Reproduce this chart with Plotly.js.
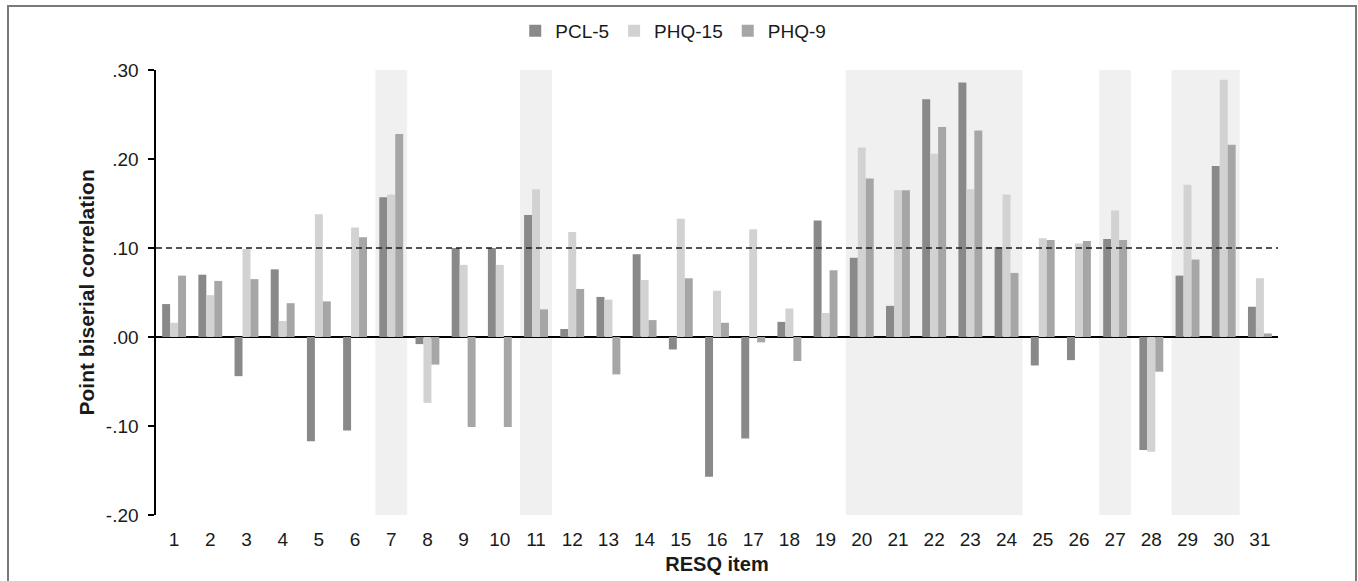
<!DOCTYPE html>
<html>
<head>
<meta charset="utf-8">
<script src="https://cdn.plot.ly/plotly-3.0.1.min.js"></script>
<style>
  html, body { margin: 0; padding: 0; background: #fff; }
  #wrap { position: relative; width: 1358px; height: 581px; overflow: hidden; }
  #chart { position: absolute; left: 0; top: 0; width: 1358px; height: 581px; }
  #frame { position: absolute; left: 7px; top: 5px; width: 1346px; height: 600px;
           border: 2px solid #7a7a7a; border-bottom: none; pointer-events: none; }
</style>
</head>
<body>
<div id="wrap">
  <div id="chart"></div>
  <div id="frame"></div>
</div>
<script>
// RESQ items
const items = [1,2,3,4,5,6,7,8,9,10,11,12,13,14,15,16,17,18,19,20,21,22,23,24,25,26,27,28,29,30,31];
const itemLabels = items.map(String);

// Point biserial correlations
const pcl5  = [0.037, 0.070, -0.044, 0.076, -0.117, -0.105, 0.157, -0.008, 0.100, 0.100,
               0.137, 0.009, 0.045, 0.093, -0.014, -0.157, -0.114, 0.017, 0.131, 0.089,
               0.035, 0.267, 0.286, 0.101, -0.032, -0.026, 0.110, -0.127, 0.069, 0.192, 0.034];
const phq15 = [0.016, 0.047, 0.099, 0.018, 0.138, 0.123, 0.160, -0.074, 0.081, 0.081,
               0.166, 0.118, 0.042, 0.064, 0.133, 0.052, 0.121, 0.032, 0.027, 0.213,
               0.165, 0.206, 0.166, 0.160, 0.111, 0.105, 0.142, -0.129, 0.171, 0.289, 0.066];
const phq9  = [0.069, 0.063, 0.065, 0.038, 0.040, 0.112, 0.228, -0.031, -0.101, -0.101,
               0.031, 0.054, -0.042, 0.019, 0.066, 0.016, -0.006, -0.027, 0.075, 0.178,
               0.165, 0.236, 0.232, 0.072, 0.109, 0.108, 0.109, -0.039, 0.087, 0.216, 0.004];

// Highlighted (shaded) items
const highlightItems = [7, 11, 20, 21, 22, 23, 24, 27, 29, 30];

// Y ticks
const yTickVals = [-0.2, -0.1, 0, 0.1, 0.2, 0.3];
const yTickText = ['-.20', '-.10', '.00', '.10', '.20', '.30'];
const threshold = 0.10;

const FONT = 'Liberation Sans, Arial, sans-serif';

const traces = [
  {type: 'bar', name: 'PCL-5', x: items, y: pcl5, marker: {color: '#898989'}},
  {type: 'bar', name: 'PHQ-15', x: items, y: phq15, marker: {color: '#d2d2d2'}},
  {type: 'bar', name: 'PHQ-9', x: items, y: phq9, marker: {color: '#a6a6a6'}}
];

// merge consecutive highlighted items into runs
const runs = [];
highlightItems.forEach(it => {
  const last = runs[runs.length - 1];
  if (last && it === last[1] + 1) last[1] = it; else runs.push([it, it]);
});
const shapes = runs.map(r => ({
  type: 'rect', xref: 'x', yref: 'paper', x0: r[0] - 0.44, x1: r[1] + 0.44, y0: 0, y1: 1,
  fillcolor: '#f0f0f0', line: {width: 0}, layer: 'below'
}));
shapes.push({
  type: 'line', xref: 'paper', yref: 'y', x0: 0, x1: 1, y0: threshold, y1: threshold,
  line: {color: '#1a1a1a', width: 1.5, dash: '6px,4px'}, layer: 'above'
});

const layout = {
  width: 1358, height: 581,
  margin: {l: 156, r: 80, t: 70, b: 66, pad: 0},
  paper_bgcolor: '#ffffff', plot_bgcolor: 'rgba(0,0,0,0)',
  font: {family: FONT, size: 19, color: '#1a1a1a'},
  barmode: 'group', bargap: 0.34, bargroupgap: 0,
  showlegend: true,
  legend: {orientation: 'h', x: 0.461, xanchor: 'center', y: 1.088, yanchor: 'middle',
           font: {family: FONT, size: 19, color: '#1a1a1a'}, itemwidth: 30, traceorder: 'normal'},
  xaxis: {
    range: [0.5, 31.5], tickvals: items, ticktext: itemLabels,
    showgrid: false, zeroline: false, showline: false,
    ticks: 'outside', ticklen: 7, tickcolor: 'rgba(0,0,0,0)',
    tickfont: {family: FONT, size: 19, color: '#1a1a1a'},
    title: {text: '<b>RESQ item</b>', font: {family: FONT, size: 20, color: '#1a1a1a'}, standoff: 8},
    automargin: false, fixedrange: true
  },
  yaxis: {
    range: [-0.2, 0.3], tickvals: yTickVals, ticktext: yTickText,
    showgrid: false, zeroline: true, zerolinecolor: '#000000', zerolinewidth: 1.6,
    showline: true, linecolor: '#000000', linewidth: 1.6,
    ticks: 'outside', ticklen: 6, tickwidth: 1.6, tickcolor: '#000000',
    ticklabelstandoff: 6,
    tickfont: {family: FONT, size: 19, color: '#1a1a1a'},
    automargin: false, fixedrange: true
  },
  annotations: [{
    text: '<b>Point biserial correlation</b>', textangle: -90,
    xref: 'paper', yref: 'paper', x: -0.0615, y: 0.5, xanchor: 'center', yanchor: 'middle',
    showarrow: false, font: {family: FONT, size: 21, color: '#1a1a1a'}
  }],
  shapes: shapes
};

Plotly.newPlot('chart', traces, layout, {displayModeBar: false, staticPlot: true});
</script>
</body>
</html>
